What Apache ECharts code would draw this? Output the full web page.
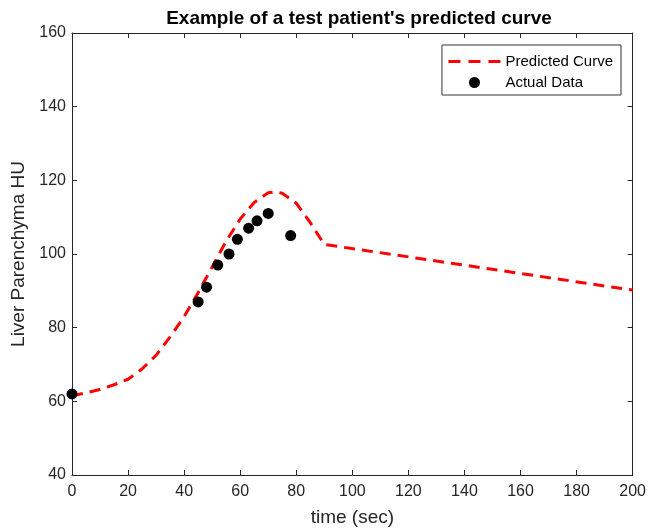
<!DOCTYPE html>
<html>
<head>
<meta charset="utf-8">
<script src="https://cdn.jsdelivr.net/npm/echarts@6/dist/echarts.min.js"></script>
<style>
  html, body { margin: 0; padding: 0; background: #fff; }
  #main { width: 649px; height: 532px; }
</style>
</head>
<body>
<div id="main"></div>
<script>
// predicted curve (time, HU)
const curveTime = [0, 5, 10, 15, 20, 25, 30, 35, 40, 45, 50, 55, 60, 65, 70, 72.5, 75, 80, 85, 90, 200]
const curveHU = [61.5, 62.3, 63.2, 64.5, 66, 68.8, 72.5, 77.5, 83, 89.5, 96.5, 103.5, 109.5, 114, 116.6, 116.9, 116.5, 113.8, 108.5, 102.6, 90.2]

// measured points
const actualTime = [0, 45, 48, 52, 56, 59, 63, 66, 70, 78]
const actualHU = [62, 87, 91, 97, 100, 104, 107, 109, 111, 105]

const xTicks = [0, 20, 40, 60, 80, 100, 120, 140, 160, 180, 200]
const yTicks = [40, 60, 80, 100, 120, 140, 160]

const txt = '#262626'
const font = '"Liberation Sans", Arial, sans-serif'

const chart = echarts.init(document.getElementById('main'))

const curveData = curveTime.map((t, i) => [t, curveHU[i]])
const actualData = actualTime.map((t, i) => [t, actualHU[i]])

const baseAxis = {
  type: 'value',
  axisLine: { show: true, onZero: false, lineStyle: { color: txt, width: 1 } },
  axisTick: { show: true, inside: true, length: 5, lineStyle: { color: txt } },
  splitLine: { show: false }
}

const option = {
  animation: false,
  backgroundColor: '#fff',
  title: {
    text: "Example of a test patient's predicted curve",
    left: 354,
    textAlign: 'center',
    top: 4,
    textStyle: { fontFamily: font, fontSize: 19, fontWeight: 'bold', color: '#000' }
  },
  legend: {
    orient: 'vertical',
    right: 28,
    top: 45,
    padding: [9, 8, 5, 5],
    itemGap: 6,
    itemWidth: 52,
    itemHeight: 11,
    borderColor: '#333',
    borderWidth: 1,
    borderRadius: 0,
    backgroundColor: '#fff',
    textStyle: { fontFamily: font, fontSize: 15, color: '#000' },
    data: [
      // hide the middle marker, keep only the dashed line
      { name: 'Predicted Curve', itemStyle: { opacity: 0 }, lineStyle: { color: '#ff0000', width: 3, type: [12, 8] } },
      { name: 'Actual Data', icon: 'circle', itemStyle: { color: '#000' } }
    ]
  },
  grid: { left: 72, right: 13, top: 33, bottom: 55 },
  xAxis: [
    Object.assign({}, baseAxis, {
      min: 0, max: 200, interval: 20,
      name: 'time (sec)',
      nameLocation: 'middle',
      nameGap: 33,
      nameTextStyle: { fontFamily: font, fontSize: 19, color: txt },
      axisLabel: { fontFamily: font, fontSize: 16, color: txt, margin: 9,
        formatter: v => xTicks.includes(v) ? String(v) : '' }
    }),
    Object.assign({}, baseAxis, {
      position: 'top', min: 0, max: 200, interval: 20,
      axisLabel: { show: false }
    })
  ],
  yAxis: [
    Object.assign({}, baseAxis, {
      min: 40, max: 160, interval: 20,
      name: 'Liver Parenchyma HU',
      nameLocation: 'middle',
      nameGap: 35,
      nameTextStyle: { fontFamily: font, fontSize: 19, color: txt },
      axisLabel: { fontFamily: font, fontSize: 16, color: txt, margin: 6,
        formatter: v => yTicks.includes(v) ? String(v) : '' }
    }),
    Object.assign({}, baseAxis, {
      position: 'right', min: 40, max: 160, interval: 20,
      axisLabel: { show: false }
    })
  ],
  series: [
    {
      name: 'Predicted Curve',
      type: 'line',
      data: curveData,
      symbol: 'none',
      smooth: false,
      itemStyle: { color: '#ff0000' },
      lineStyle: { color: '#ff0000', width: 3, type: [11, 7] },
      z: 2
    },
    {
      name: 'Actual Data',
      type: 'scatter',
      data: actualData,
      symbol: 'circle',
      symbolSize: 11,
      itemStyle: { color: '#000', opacity: 1 },
      z: 3
    }
  ]
}

option && chart.setOption(option)
</script>
</body>
</html>
